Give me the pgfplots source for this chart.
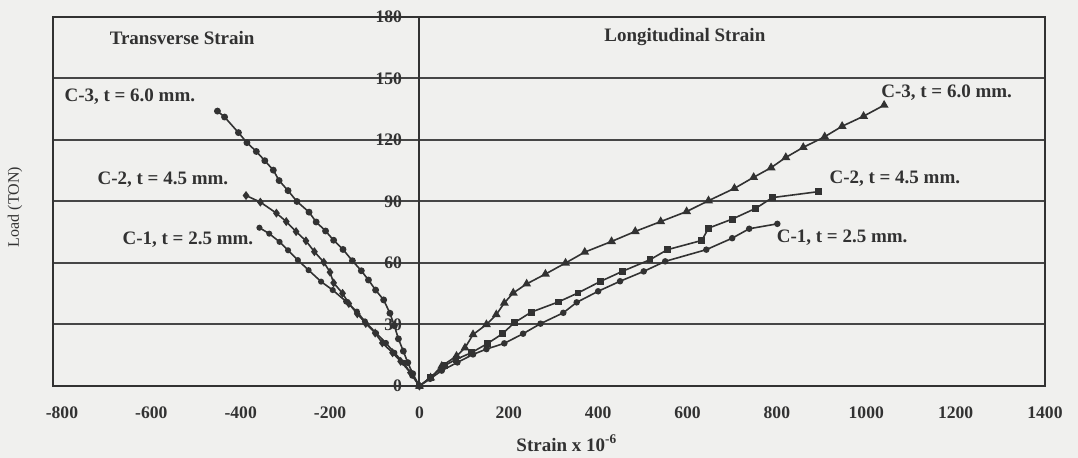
\documentclass[border=0pt]{standalone}
\usepackage{pgfplots}
\pgfplotsset{compat=1.18}
\usepackage{fontspec}
\setmainfont{Liberation Serif}
\definecolor{ink}{RGB}{50,50,50}
\definecolor{paper}{RGB}{240,240,238}
\begin{document}
\begin{tikzpicture}
\fill[paper] (-26.5pt,-36pt) rectangle (512.5pt,193pt);
\path[use as bounding box] (-26.5pt,-36pt) rectangle (512.5pt,193pt);
\begin{axis}[
  scale only axis, width=496pt, height=184.5pt,
  at={(0pt,0pt)}, anchor=south west,
  xmin=-820, xmax=1400, ymin=0, ymax=180,
  xtick={-800,-600,...,1400}, ytick={0,30,...,180},
  axis line style={ink, line width=1pt},
  major tick length=0pt,
  ymajorgrids, grid style={ink!90, line width=1pt},
  /pgf/number format/assume math mode=true,
  /pgf/number format/1000 sep={},
  tick label style={font=\bfseries\fontsize{8.8}{10}\selectfont, text=ink},
  xticklabel style={yshift=-7pt},
  yticklabel style={xshift=178pt},
  xlabel={Strain x 10\textsuperscript{-6}},
  xlabel style={at={(rel axis cs:0.518,0)}, anchor=center, yshift=-28.5pt, font=\bfseries\fontsize{9.5}{11}\selectfont, text=ink},
  ylabel={Load (TON)},
  ylabel style={at={(rel axis cs:0,0.485)}, anchor=center, yshift=19pt, font=\fontsize{8}{10}\selectfont, text=ink},
  every axis plot/.append style={ink, line width=0.8pt},
  clip=false,
]
% y axis at zero strain
\addplot[ink, line width=1pt, no marks] coordinates {(0,0) (0,180)};

% Transverse strain
\addplot[mark=*, mark size=1.3pt] coordinates {
(-452,134.1) (-436,131.2) (-405,123.6) (-386,118.7) (-365,114.4) (-346,109.9) (-327,105.3) (-314,100.2) (-294,95.3) (-274,90) (-247,84.8) (-231,80) (-210,75.6) (-192,71.1) (-171,66.6) (-150,61.1) (-130,56.2) (-114,51.7) (-98,46.8) (-80,42) (-66,35.5) (-56,29.4) (-47,23) (-36,17) (-26,11.4) (-15,6) (0,0)};
\addplot[mark=diamond*, mark size=1.6pt] coordinates {
(-388,92.9) (-356,89.7) (-320,84.3) (-298,80.2) (-276,75.3) (-254,70.8) (-235,65.5) (-214,60.4) (-200,55.5) (-192,50.3) (-172,45.2) (-158,40.2) (-139,35.2) (-120,30.5) (-99,25.8) (-83,21) (-60,16.2) (-42,12) (-20,6.5) (0,0)};
\addplot[mark=*, mark size=1.1pt] coordinates {
(-358,77.2) (-336,74.3) (-313,70.3) (-294,66.2) (-272,61.4) (-248,56.5) (-220,50.9) (-194,46.8) (-164,41.2) (-140,36.3) (-122,31.5) (-97,25.8) (-75,21) (-56,16.2) (-35,11.3) (-16,5) (0,0)};

% Longitudinal strain
\addplot[mark=triangle*, mark size=1.8pt] coordinates {
(0,0) (25,4) (50,9.7) (83,14.6) (102,18.6) (120,25.1) (150,30) (172,34.8) (190,40.5) (210,45.4) (240,49.8) (282,54.6) (327,60) (370,65.3) (430,70.5) (483,75.4) (540,80.2) (598,85.1) (647,90.4) (705,96.4) (748,101.8) (787,106.5) (820,111.5) (859,116.4) (907,121.6) (946,126.7) (994,131.6) (1040,137)};
\addplot[mark=square*, mark size=1.3pt] coordinates {
(0,0) (24,4.1) (57,10) (82,13) (116,16.2) (153,20.8) (186,25.5) (212,30.8) (250,36) (311,41) (355,45.4) (406,51.1) (454,55.9) (516,61.6) (555,66.5) (632,71) (647,77) (700,81.4) (753,86.7) (790,91.9) (893,94.8)};
\addplot[mark=*, mark size=1.2pt] coordinates {
(0,0) (24,3.5) (50,7.5) (85,11.5) (120,15.4) (150,18) (190,20.8) (232,25.5) (271,30.4) (322,35.7) (352,40.8) (400,46.2) (449,51.1) (502,55.9) (550,60.8) (642,66.5) (700,72.1) (738,76.7) (801,79.1)};

% Annotations
\begin{scope}[every node/.style={font=\bfseries\fontsize{9.5}{11}\selectfont, text=ink}]
\node at (axis cs:-531,169.8) {Transverse Strain};
\node at (axis cs:594,170) {Longitudinal Strain};
\node at (axis cs:-648,141) {C-3, t = 6.0 mm.};
\node at (axis cs:-574,100.5) {C-2, t = 4.5 mm.};
\node at (axis cs:-518,71.2) {C-1, t = 2.5 mm.};
\node at (axis cs:1180,143) {C-3, t = 6.0 mm.};
\node at (axis cs:1064,101) {C-2, t = 4.5 mm.};
\node at (axis cs:946,72.5) {C-1, t = 2.5 mm.};
\end{scope}
\end{axis}
\end{tikzpicture}
\end{document}
